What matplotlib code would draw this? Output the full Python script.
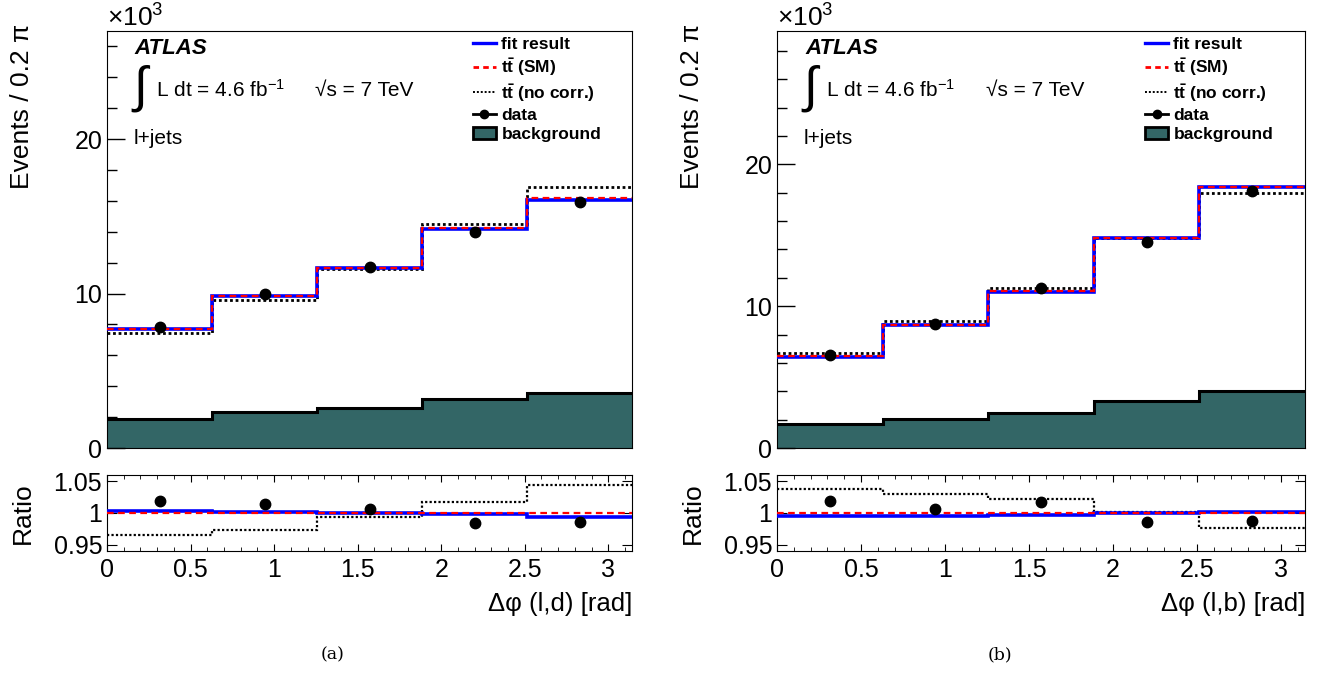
#Delta phi distributions with fit result, SM and no-correlation templates
import numpy as np
import matplotlib
matplotlib.use("Agg")
import matplotlib.pyplot as plt
from matplotlib.lines import Line2D
from matplotlib.patches import Patch

plt.rcParams['font.family'] = ['Liberation Sans', 'DejaVu Sans']
plt.rcParams['mathtext.fontset'] = 'custom'
plt.rcParams['mathtext.rm'] = 'Liberation Sans'
plt.rcParams['mathtext.it'] = 'Liberation Sans:italic'
plt.rcParams['mathtext.bf'] = 'Liberation Sans:bold'

edges = np.linspace(0, np.pi, 6)
centers = 0.5*(edges[1:]+edges[:-1])

# panel (a): Delta phi (l,d), events in thousands
fit_a = [7.70, 9.85, 11.64, 14.20, 16.08]
sm_a = [7.68, 9.84, 11.64, 14.23, 16.18]
nocorr_a = [7.44, 9.57, 11.56, 14.49, 16.90]
data_a = [7.85, 9.96, 11.73, 13.99, 15.93]
bkg_a = [1.87, 2.30, 2.59, 3.17, 3.53]
fit_ra = [1.003, 1.001, 1.000, 0.998, 0.994]
nocorr_ra = [0.966, 0.973, 0.993, 1.018, 1.045]
data_ra = [1.019, 1.014, 1.006, 0.984, 0.986]
err_ra = [0.006, 0.006, 0.005, 0.004, 0.004]

# panel (b): Delta phi (l,b)
fit_b = [6.43, 8.66, 11.03, 14.79, 18.42]
sm_b = [6.46, 8.69, 11.06, 14.79, 18.38]
nocorr_b = [6.71, 8.92, 11.31, 14.80, 17.98]
data_b = [6.57, 8.73, 11.27, 14.55, 18.12]
bkg_b = [1.69, 2.04, 2.44, 3.33, 3.99]
fit_rb = [0.995, 0.996, 0.997, 1.000, 1.002]
nocorr_rb = [1.038, 1.030, 1.022, 1.001, 0.977]
data_rb = [1.019, 1.007, 1.018, 0.985, 0.987]
err_rb = [0.006, 0.006, 0.005, 0.004, 0.004]

W, H = 1328.0, 677.0
BKG_COLOR = "#336666"

fig = plt.figure(figsize=(13.28, 6.77), dpi=100)

def drawPanel(x0, x1, fit, sm, nocorr, data, bkg, fit_r, nocorr_r, data_r, err_r, ymax, xlab, cap, captext):
    ax = fig.add_axes([x0/W, 1-448/H, (x1-x0)/W, 417/H])
    rx = fig.add_axes([x0/W, 1-551/H, (x1-x0)/W, 76/H])

    ax.stairs(bkg, edges, fill=True, color=BKG_COLOR, zorder=1)
    ax.stairs(bkg, edges, baseline=None, color="black", lw=2.2, zorder=2)
    ax.stairs(nocorr, edges, baseline=None, color="black", lw=2, ls=(0, (1, 1)), zorder=3)
    ax.stairs(fit, edges, baseline=None, color="blue", lw=2.6, zorder=4)
    ax.stairs(sm, edges, baseline=None, color="red", lw=1.6, ls=(0, (3, 2)), zorder=5)
    ax.plot(centers, data, "o", color="black", ms=7.5, zorder=6)

    ax.set_xlim(0, np.pi)
    ax.set_ylim(0, ymax)
    ax.set_yticks([0, 10, 20])
    ax.set_yticks(np.arange(0, ymax, 2), minor=True)
    ax.set_xticks(np.arange(0, 3.01, 0.5))
    ax.set_xticklabels([])
    ax.tick_params(axis="y", which="major", direction="in", length=13, labelsize=18, width=1)
    ax.tick_params(axis="y", which="minor", direction="in", length=7, width=1)
    ax.tick_params(axis="x", which="both", bottom=False)

    ax.text(x0/W, 1-27/H, "×10$^{3}$", transform=fig.transFigure, fontsize=19, va="baseline", ha="left")
    ax.text(0.053, 0.957, "ATLAS", transform=ax.transAxes, fontsize=16, fontweight="bold", style="italic", va="center")
    ax.text(0.046, 0.862, r"$\int$", transform=ax.transAxes, fontsize=36, va="center")
    ax.text(0.093, 0.858, "L dt = 4.6 fb$^{-1}$", transform=ax.transAxes, fontsize=15, va="center")
    ax.text(0.396, 0.858, "√s = 7 TeV", transform=ax.transAxes, fontsize=15, va="center")
    ax.text(0.051, 0.743, "l+jets", transform=ax.transAxes, fontsize=15, va="center")

    handles = [
        Line2D([], [], color="blue", lw=2.4),
        Line2D([], [], color="red", lw=2, ls=(0, (2, 1.5))),
        Line2D([], [], color="black", lw=1.4, ls=(0, (1, 1))),
        Line2D([], [], color="black", lw=2, marker="o", ms=6),
        Patch(facecolor=BKG_COLOR, edgecolor="black", lw=2),
    ]
    labels = ["fit result", r"$\mathbf{t\bar{t}}$ (SM)", r"$\mathbf{t\bar{t}}$ (no corr.)", "data", "background"]
    ax.legend(handles, labels, loc="upper left", bbox_to_anchor=(0.69, 0.995), frameon=False,
              prop={"weight": "bold", "size": 12.5}, handlelength=1.35, handletextpad=0.3,
              labelspacing=0.24, borderpad=0.2, borderaxespad=0.0)

    rx.axhline(1.0, color="red", lw=1.6, ls=(0, (3, 2)), zorder=5)
    rx.stairs(nocorr_r, edges, baseline=None, color="black", lw=1.6, ls=(0, (1, 1)), zorder=3)
    rx.stairs(fit_r, edges, baseline=None, color="blue", lw=2.6, zorder=4)
    rx.errorbar(centers, data_r, yerr=err_r, fmt="o", color="black", ms=7.5, elinewidth=1.5, capsize=0, zorder=6)
    rx.set_xlim(0, np.pi)
    rx.set_ylim(0.94, 1.06)
    rx.set_yticks([0.95, 1.0, 1.05])
    rx.set_yticklabels(["0.95", "1", "1.05"])
    rx.set_xticks(np.arange(0, 3.01, 0.5))
    rx.set_xticklabels(["0", "0.5", "1", "1.5", "2", "2.5", "3"])
    rx.set_xticks(np.arange(0, 3.15, 0.1), minor=True)
    rx.tick_params(axis="y", which="major", direction="in", length=7, labelsize=18, right=True)
    rx.tick_params(axis="x", which="major", direction="in", length=5, labelsize=18, top=True, pad=5)
    rx.tick_params(axis="x", which="minor", direction="in", length=3, top=True)

    fig.text(x1/W, 1-604/H, xlab, fontsize=18.5, ha="right", va="center")
    fig.text((x0-85)/W, 1-24/H, "Events / 0.2 π", fontsize=19, rotation=90, ha="center", va="top")
    fig.text((x0-84)/W, 1-513/H, "Ratio", fontsize=19, rotation=90, ha="center", va="center")
    fig.text(cap/W, 1-655/H, captext, fontsize=12.5, family="DejaVu Serif", ha="center", va="center")

drawPanel(107, 632, fit_a, sm_a, nocorr_a, data_a, bkg_a, fit_ra, nocorr_ra, data_ra, err_ra, 27.0, "Δφ (l,d) [rad]", 333, "(a)")
drawPanel(777, 1305, fit_b, sm_b, nocorr_b, data_b, bkg_b, fit_rb, nocorr_rb, data_rb, err_rb, 29.4, "Δφ (l,b) [rad]", 1000, "(b)")

plt.savefig("out.png", dpi=100)
